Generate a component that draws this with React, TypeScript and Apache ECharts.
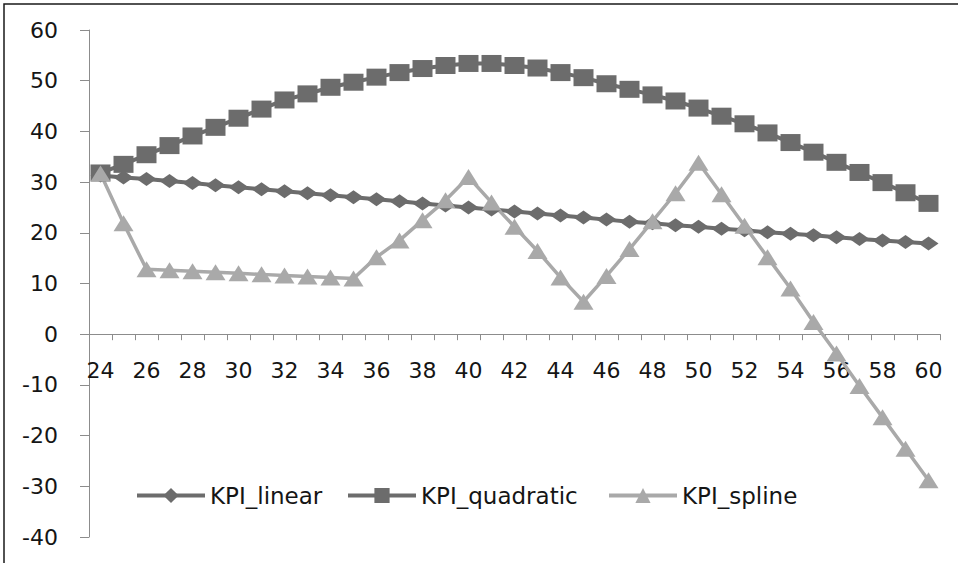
import React, { useEffect, useRef } from "react";
import * as echarts from "echarts";

const categories = [
  "24", "25", "26", "27", "28", "29", "30", "31", "32", "33", "34", "35", "36",
  "37", "38", "39", "40", "41", "42", "43", "44", "45", "46", "47", "48", "49",
  "50", "51", "52", "53", "54", "55", "56", "57", "58", "59", "60",
];

const kpiLinear = [
  31.3, 30.9, 30.6, 30.2, 29.8, 29.4, 29.0, 28.6, 28.2, 27.8, 27.4, 27.0, 26.6,
  26.2, 25.8, 25.4, 25.0, 24.6, 24.2, 23.8, 23.4, 23.0, 22.6, 22.2, 21.9, 21.5,
  21.2, 20.8, 20.5, 20.1, 19.8, 19.5, 19.1, 18.8, 18.5, 18.2, 17.9,
];

const kpiQuadratic = [
  31.8, 33.5, 35.4, 37.2, 39.1, 40.8, 42.6, 44.4, 46.2, 47.4, 48.7, 49.7, 50.7,
  51.6, 52.4, 53.0, 53.4, 53.4, 53.0, 52.5, 51.6, 50.6, 49.4, 48.3, 47.2, 46.0,
  44.6, 43.0, 41.5, 39.7, 37.8, 35.9, 33.9, 31.9, 29.9, 27.9, 25.8,
];

const kpiSpline = [
  31.7, 21.9, 12.8, 12.6, 12.4, 12.2, 12.0, 11.8, 11.6, 11.4, 11.2, 11.0, 15.2,
  18.5, 22.5, 26.4, 31.0, 26.0, 21.2, 16.4, 11.2, 6.4, 11.5, 16.8, 22.3, 27.8,
  33.8, 27.6, 21.4, 15.2, 9.0, 2.4, -3.8, -10.2, -16.4, -22.6, -28.8,
];

const seriesNames = ["KPI_linear", "KPI_quadratic", "KPI_spline"];
const yMin = -40;
const yMax = 60;
const yInterval = 10;

export default function App() {
  const ref = useRef<HTMLDivElement>(null);

  useEffect(() => {
    if (!ref.current) return;
    const chart = echarts.init(ref.current, null, { renderer: "svg" });
    const font = "'DejaVu Sans', Verdana, sans-serif";
    const axisColor = "#8c8c8c";
    const textColor = "#151515";
    const dark = "#6c6c6c";
    const light = "#a9a9a9";

    const gridTop = 30;
    const gridBottom = 26;
    const gridHeight = 563 - gridTop - gridBottom;
    // move the category axis up to the value 0 of the value axis
    const zeroOffset = -gridHeight * (0 - yMin) / (yMax - yMin);

    const legendBase = {
      top: 484,
      orient: "horizontal",
      padding: 0,
      itemGap: 0,
      itemWidth: 68,
      itemHeight: 19,
      lineStyle: { width: 4 },
      textStyle: { fontSize: 23, fontFamily: font, color: textColor },
      selectedMode: false,
    };

    chart.setOption({
      animation: false,
      backgroundColor: "#ffffff",
      grid: {
        left: 89,
        right: 18,
        top: gridTop,
        bottom: gridBottom,
        containLabel: false,
        outerBoundsMode: "none",
      },
      xAxis: {
        type: "category",
        data: categories,
        boundaryGap: true,
        offset: zeroOffset,
        axisLine: { onZero: false, lineStyle: { color: axisColor, width: 1 } },
        axisTick: { show: true, interval: 0, length: 6, lineStyle: { color: axisColor } },
        axisLabel: {
          interval: 1,
          margin: 25,
          fontSize: 22,
          fontFamily: font,
          color: textColor,
        },
        splitLine: { show: false },
      },
      yAxis: {
        type: "value",
        min: yMin,
        max: yMax,
        interval: yInterval,
        axisLine: { show: true, lineStyle: { color: axisColor, width: 1 } },
        axisTick: { show: true, length: 9, lineStyle: { color: axisColor } },
        axisLabel: { margin: 31, fontSize: 22, fontFamily: font, color: textColor },
        splitLine: { show: false },
      },
      legend: [
        { ...legendBase, left: 135, data: [seriesNames[0]] },
        { ...legendBase, left: 346, data: [seriesNames[1]] },
        { ...legendBase, left: 607, data: [seriesNames[2]] },
      ],
      series: [
        {
          name: seriesNames[0],
          type: "line",
          data: kpiLinear,
          symbol: "diamond",
          symbolSize: [20, 14],
          showAllSymbol: true,
          lineStyle: { color: dark, width: 4 },
          itemStyle: { color: dark },
        },
        {
          name: seriesNames[1],
          type: "line",
          data: kpiQuadratic,
          symbol: "rect",
          symbolSize: [20, 17],
          showAllSymbol: true,
          lineStyle: { color: dark, width: 4 },
          itemStyle: { color: dark },
        },
        {
          name: seriesNames[2],
          type: "line",
          data: kpiSpline,
          symbol: "triangle",
          symbolSize: [20, 16],
          showAllSymbol: true,
          lineStyle: { color: light, width: 3.5 },
          itemStyle: { color: light },
        },
      ],
      graphic: [
        {
          type: "rect",
          silent: true,
          z: 100,
          shape: { x: 4, y: 4, width: 1200, height: 1200 },
          style: { fill: "none", stroke: "#1a1a1a", lineWidth: 1.5 },
        },
      ],
    });

    return () => chart.dispose();
  }, []);

  return (
    <div
      ref={ref}
      style={{ position: "fixed", left: 0, top: 0, width: 958, height: 563 }}
    />
  );
}
